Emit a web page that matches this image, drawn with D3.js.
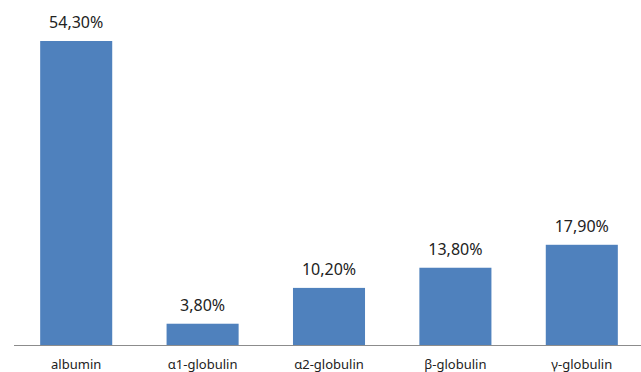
<!DOCTYPE html>
<html>
<head>
<meta charset="utf-8">
<script src="https://cdn.jsdelivr.net/npm/d3@7"></script>
<style>
  body { margin: 0; background: #fff; }
  svg { display: block; }
</style>
</head>
<body>
<div id="viz"></div>
<script>
const categories = ['albumin', 'α1-globulin', 'α2-globulin', 'β-globulin', 'γ-globulin'];
const values = [54.3, 3.8, 10.2, 13.8, 17.9];
const labels = ['54,30%', '3,80%', '10,20%', '13,80%', '17,90%'];

const width = 641;
const height = 372;
const baseline = 345;

const data = categories.map((c, i) => ({ cat: c, value: values[i], label: labels[i] }));

const x = d3.scaleBand()
  .domain(categories)
  .range([13, 645])
  .paddingInner(0.43)
  .paddingOuter(0.215);

const y = d3.scaleLinear()
  .domain([0, 54.3])
  .range([baseline, 41]);

const svg = d3.select('#viz').append('svg')
  .attr('width', width)
  .attr('height', height);

svg.append('g')
  .selectAll('rect')
  .data(data)
  .enter()
  .append('rect')
  .attr('x', d => x(d.cat))
  .attr('y', d => y(d.value))
  .attr('width', x.bandwidth())
  .attr('height', d => baseline - y(d.value))
  .attr('fill', '#4f81bd');

svg.append('line')
  .attr('x1', 14)
  .attr('x2', width)
  .attr('y1', baseline + 0.5)
  .attr('y2', baseline + 0.5)
  .attr('stroke', '#8c8c8c')
  .attr('stroke-width', 1);

svg.append('g')
  .selectAll('text')
  .data(data)
  .enter()
  .append('text')
  .attr('x', d => x(d.cat) + x.bandwidth() / 2)
  .attr('y', d => y(d.value) - 13)
  .attr('text-anchor', 'middle')
  .attr('font-family', 'Noto Sans')
  .attr('font-size', 16)
  .attr('fill', '#222')
  .text(d => d.label);

svg.append('g')
  .selectAll('text')
  .data(data)
  .enter()
  .append('text')
  .attr('x', d => x(d.cat) + x.bandwidth() / 2)
  .attr('y', 369)
  .attr('text-anchor', 'middle')
  .attr('font-family', 'Noto Sans')
  .attr('font-size', 13)
  .attr('fill', '#222')
  .text(d => d.cat);
</script>
</body>
</html>
